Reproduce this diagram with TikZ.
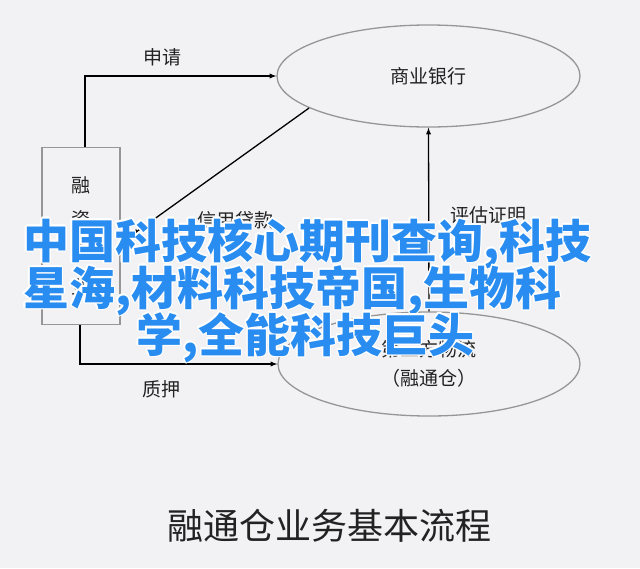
\documentclass[tikz,border=0pt]{standalone}
\usepackage{fontspec}
\setmainfont{Noto Sans CJK SC}
\usepackage[copies]{contour}
\contourlength{1.3pt}
\contournumber{16}
\usetikzlibrary{shapes.geometric}
\definecolor{bgcol}{RGB}{242,242,244}
\definecolor{edgecol}{RGB}{150,150,150}
\definecolor{inkcol}{RGB}{34,34,34}
\definecolor{markblue}{RGB}{40,140,240}

\begin{document}
\begin{tikzpicture}[x=1pt, y=-1pt,
		box/.style={draw=edgecol, line width=1.3pt, minimum width=78pt, minimum height=177pt,
			font=\fontsize{19}{34}\selectfont, align=center, text=inkcol},
		oval/.style={draw=edgecol, line width=1.3pt, ellipse, inner sep=0pt,
			font=\fontsize{19}{29}\selectfont, align=center, text=inkcol},
		lbl/.style={font=\fontsize{19}{23}\selectfont, inner sep=0pt, text=inkcol},
		arr/.style={->, >=latex, line width=1.3pt, draw=black},
		wmark/.style={anchor=west, inner sep=0pt, text=markblue,
			font=\fontsize{46}{48}\selectfont\bfseries}
	]
		\fill[bgcol] (0,0) rectangle (640,568);
		\useasboundingbox (0,0) rectangle (640,568);
		
		% boxes
		\node[box] (qiye) at (81,236) {融\\资\\企\\业};
		\node[oval, minimum width=303pt, minimum height=102pt] (bank) at (428.5,76) {商业银行};
		\node[oval, minimum width=302pt, minimum height=104pt] (wuliu) at (429,364) {第三方物流\\（融通仓）};
		\coordinate (loan) at (132,235);
		
		% connectors
		\draw[arr] ([xshift=4pt]qiye.north) |- (bank.west);
		\draw[arr] (bank.195) -- (loan);
		\draw[arr] (wuliu.north) -- (bank.south);
		\draw[arr] ([xshift=-1pt]qiye.south) |- (wuliu.west);
		
		% labels
		\node[lbl] (shenqing) at (162,57) {申请};
		\node[lbl] (daikuan) at (235,220) {信用贷款};
		\node[lbl] (pinggu) at (488,215) {评估证明};
		\node[lbl] (zhiya) at (161,389) {质押};
		\node[lbl, font=\fontsize{36}{40}\selectfont] (title) at (329,526) {融通仓业务基本流程};
		
		% overlay text
		\node[wmark] (line1) at (23,244) {\contour{white}{中国科技核心期刊查询,科技}};
		\node[wmark] (line2) at (23,291) {\contour{white}{星海,材料科技帝国,生物科}};
		\node[wmark] (line3) at (136,338) {\contour{white}{学,全能科技巨头}};
\end{tikzpicture}
\end{document}
